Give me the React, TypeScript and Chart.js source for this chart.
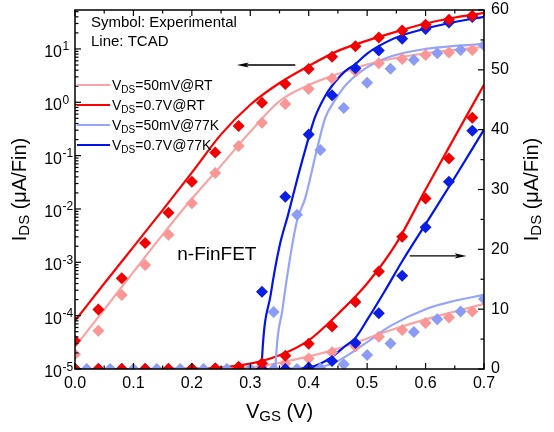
import { useEffect, useRef } from 'react';
import { Chart, registerables } from 'chart.js';

Chart.register(...registerables);

// ---------- Experimental data (symbols), I_DS in uA/Fin ----------
const VGS_EXP = [0.0, 0.04, 0.08, 0.12, 0.16, 0.2, 0.24, 0.28, 0.32, 0.36, 0.4, 0.44, 0.48, 0.52, 0.56, 0.6, 0.64, 0.68];
const VGS_EXP_77K_50MV = [0.02, 0.06, 0.1, 0.14, 0.18, 0.22, 0.26, 0.3, 0.34, 0.38, 0.42, 0.46, 0.5, 0.54, 0.58, 0.62, 0.66, 0.7];
const EXP_50MV_RT = [1.9e-5, 5.2e-5, 2.45e-4, 8.9e-4, 3.3e-3, 1.28e-2, 4.7e-2, 0.152, 0.415, 0.93, 1.77, 2.8, 3.8, 5.4, 6.5, 7.7, 8.6, 9.6];
const EXP_07V_RT = [3.4e-5, 1.3e-4, 5.0e-4, 2.3e-3, 8.5e-3, 3.25e-2, 0.114, 0.36, 0.98, 2.2, 4.2, 7.1, 11.2, 16.3, 22.1, 28.5, 35.2, 42.0];
const EXP_50MV_77K = [0, 0, 0, 0, 0, 0, 0, 0, 1.17e-4, 7.8e-3, 0.128, 0.78, 2.33, 4.25, 6.2, 8.3, 9.6, 11.7];
const EXP_07V_77K = [0, 0, 0, 0, 0, 0, 0, 0, 2.8e-4, 1.7e-2, 0.25, 1.35, 4.35, 9.3, 15.6, 23.7, 31.3, 39.8];

// ---------- TCAD data (lines) ----------
const VGS_TCAD_RT = [0.0, 0.05, 0.1, 0.15, 0.2, 0.25, 0.3, 0.35, 0.4, 0.45, 0.5, 0.55, 0.6, 0.65, 0.7];
const TCAD_50MV_RT = [2.6e-5, 1.3e-4, 6.6e-4, 3.3e-3, 1.55e-2, 6.5e-2, 0.28, 1.05, 2.1, 3.4, 5.1, 6.8, 8.3, 9.6, 10.9];
const TCAD_07V_RT = [8.0e-5, 4.0e-4, 1.95e-3, 9.5e-3, 4.8e-2, 0.25, 0.9, 2.3, 4.8, 9.2, 14.3, 21.0, 30.0, 38.8, 47.5];
const VGS_TCAD_50MV_77K = [0.0, 0.3, 0.335, 0.343, 0.355, 0.368, 0.38, 0.394, 0.414, 0.428, 0.445, 0.465, 0.5, 0.54, 0.6, 0.65, 0.7];
const TCAD_50MV_77K = [1e-9, 1e-9, 1e-8, 1e-5, 1.3e-4, 1.2e-3, 6e-3, 1.6e-2, 0.13, 0.5, 1.1, 2.2, 4.5, 7.2, 10.0, 11.4, 12.4];
const VGS_TCAD_07V_77K = [0.0, 0.3, 0.31, 0.32, 0.335, 0.35, 0.365, 0.38, 0.395, 0.41, 0.428, 0.445, 0.462, 0.48, 0.5, 0.53, 0.56, 0.6, 0.65, 0.7];
const TCAD_07V_77K = [1e-9, 1e-9, 1e-8, 1.5e-5, 2.5e-4, 2e-3, 8e-3, 0.035, 0.14, 0.5, 1.3, 2.4, 3.8, 5.2, 8.2, 13.0, 18.0, 24.2, 32.0, 40.0];

// ---------- Axes ----------
const X_MAJOR = [0.0, 0.1, 0.2, 0.3, 0.4, 0.5, 0.6, 0.7];
const X_LABELS = ['0.0', '0.1', '0.2', '0.3', '0.4', '0.5', '0.6', '0.7'];
const X_MINOR = [0.05, 0.15, 0.25, 0.35, 0.45, 0.55, 0.65];
const LOG_EXPONENTS = [-5, -4, -3, -2, -1, 0, 1];
const LOG_MIN = 1e-5;
const LOG_MAX = 53.7;
const LIN_MAJOR = [0, 10, 20, 30, 40, 50, 60];
const LIN_MINOR = [5, 15, 25, 35, 45, 55];

const LEGEND_LABELS = ['=50mV@RT', '=0.7V@RT', '=50mV@77K', '=0.7V@77K'];

const C_PINK_LINE = 'rgb(248,165,165)';
const C_PINK_PT = 'rgb(250,150,150)';
const C_RED_LINE = 'rgb(255,0,0)';
const C_RED_PT = 'rgb(240,0,0)';
const C_LBLUE_LINE = 'rgb(150,165,250)';
const C_LBLUE_PT = 'rgb(140,155,245)';
const C_BLUE_LINE = 'rgb(0,20,235)';
const C_BLUE_PT = 'rgb(10,30,230)';

const FONT = '"Liberation Sans", Arial, Helvetica, sans-serif';
const f = (px: number) => `${px}px ${FONT}`;

type Part = { t: string; s: number; dy?: number };

function partsWidth(ctx: CanvasRenderingContext2D, parts: Part[]) {
  let w = 0;
  for (const p of parts) {
    ctx.font = f(p.s);
    w += ctx.measureText(p.t).width;
  }
  return w;
}

function drawParts(ctx: CanvasRenderingContext2D, parts: Part[], x: number, y: number, align: 'left' | 'center' | 'right') {
  const w = partsWidth(ctx, parts);
  let cx = align === 'left' ? x : align === 'center' ? x - w / 2 : x - w;
  ctx.textAlign = 'left';
  ctx.textBaseline = 'alphabetic';
  for (const p of parts) {
    ctx.font = f(p.s);
    ctx.fillText(p.t, cx, y + (p.dy || 0));
    cx += ctx.measureText(p.t).width;
  }
}

function arrow(ctx: CanvasRenderingContext2D, x1: number, y1: number, x2: number, y2: number) {
  const dir = Math.sign(x2 - x1);
  const hl = 12;
  const hw = 2.6;
  ctx.beginPath();
  ctx.moveTo(x1, y1);
  ctx.lineTo(x2 - dir * hl * 0.6, y2);
  ctx.lineWidth = 1.3;
  ctx.stroke();
  ctx.beginPath();
  ctx.moveTo(x2, y2);
  ctx.lineTo(x2 - dir * hl, y2 - hw);
  ctx.lineTo(x2 - dir * hl * 0.75, y2);
  ctx.lineTo(x2 - dir * hl, y2 + hw);
  ctx.closePath();
  ctx.fill();
}

const decorPlugin = {
  id: 'decor',
  afterDatasetsDraw(chart: any) {
    const { ctx, chartArea: a, scales } = chart;
    const sx = scales.x;
    const sl = scales.yLog;
    const sr = scales.yLin;
    ctx.save();
    ctx.strokeStyle = '#000';
    ctx.fillStyle = '#000';

    ctx.lineWidth = 1.5;
    ctx.strokeRect(a.left, a.top, a.right - a.left, a.bottom - a.top);

    const MAJ = 6;
    const MIN = 3.5;
    ctx.lineWidth = 1.2;
    const seg = (x1: number, y1: number, x2: number, y2: number) => {
      ctx.beginPath();
      ctx.moveTo(x1, y1);
      ctx.lineTo(x2, y2);
      ctx.stroke();
    };
    X_MAJOR.forEach((v) => {
      const px = sx.getPixelForValue(v);
      seg(px, a.bottom, px, a.bottom - MAJ);
      seg(px, a.top, px, a.top + MAJ);
    });
    X_MINOR.forEach((v) => {
      const px = sx.getPixelForValue(v);
      seg(px, a.bottom, px, a.bottom - MIN);
      seg(px, a.top, px, a.top + MIN);
    });
    LOG_EXPONENTS.forEach((e) => {
      const py = sl.getPixelForValue(Math.pow(10, e));
      seg(a.left, py, a.left + MAJ, py);
      for (let m = 2; m <= 9; m++) {
        const v = m * Math.pow(10, e);
        if (v > LOG_MAX) break;
        const pm = sl.getPixelForValue(v);
        seg(a.left, pm, a.left + MIN, pm);
      }
    });
    LIN_MAJOR.forEach((v) => {
      const py = sr.getPixelForValue(v);
      seg(a.right, py, a.right - MAJ, py);
    });
    LIN_MINOR.forEach((v) => {
      const py = sr.getPixelForValue(v);
      seg(a.right, py, a.right - MIN, py);
    });

    ctx.font = f(16);
    ctx.textAlign = 'center';
    ctx.textBaseline = 'middle';
    X_MAJOR.forEach((v, i) => {
      ctx.fillText(X_LABELS[i], sx.getPixelForValue(v), a.bottom + 15);
    });
    ctx.textAlign = 'left';
    LIN_MAJOR.forEach((v) => {
      ctx.fillText(String(v), a.right + 7, sr.getPixelForValue(v));
    });
    LOG_EXPONENTS.forEach((e) => {
      const py = sl.getPixelForValue(Math.pow(10, e));
      ctx.font = f(16);
      ctx.textAlign = 'right';
      ctx.textBaseline = 'alphabetic';
      ctx.fillText('10', a.left - 13, py + 8);
      ctx.font = f(12);
      ctx.textAlign = 'left';
      ctx.fillText(e < 0 ? '-' + Math.abs(e) : String(e), a.left - 12.5, py + 1.5);
    });

    const cxMid = (a.left + a.right) / 2;
    const cyMid = (a.top + a.bottom) / 2;
    drawParts(ctx, [{ t: 'V', s: 20 }, { t: 'GS', s: 15, dy: 3 }, { t: ' (V)', s: 20 }], cxMid, 418, 'center');
    const yTitle: Part[] = [{ t: 'I', s: 20 }, { t: 'DS', s: 15, dy: 3 }, { t: ' (\u03BCA/Fin)', s: 20 }];
    ctx.save();
    ctx.translate(26, cyMid);
    ctx.rotate(-Math.PI / 2);
    drawParts(ctx, yTitle, 0, 0, 'center');
    ctx.restore();
    ctx.save();
    ctx.translate(538, cyMid);
    ctx.rotate(-Math.PI / 2);
    drawParts(ctx, yTitle, 0, 0, 'center');
    ctx.restore();

    drawParts(ctx, [{ t: 'Symbol: Experimental', s: 15 }], a.left + 16, a.top + 17, 'left');
    drawParts(ctx, [{ t: 'Line: TCAD', s: 15 }], a.left + 16, a.top + 36, 'left');
    drawParts(ctx, [{ t: 'n-FinFET', s: 19 }], sx.getPixelForValue(0.175), sl.getPixelForValue(1.1e-3), 'left');

    const lcolors = [C_PINK_LINE, C_RED_LINE, C_LBLUE_LINE, C_BLUE_LINE];
    LEGEND_LABELS.forEach((lab, i) => {
      const y = a.top + 75 + i * 20;
      ctx.strokeStyle = lcolors[i];
      ctx.lineWidth = 2.2;
      seg(a.left + 2, y, a.left + 35, y);
      ctx.fillStyle = '#000';
      drawParts(ctx, [{ t: 'V', s: 14 }, { t: 'DS', s: 10, dy: 3 }, { t: lab, s: 14 }], a.left + 37, y + 5, 'left');
    });

    ctx.strokeStyle = '#000';
    ctx.fillStyle = '#000';
    const ya = sl.getPixelForValue(5.0);
    arrow(ctx, sx.getPixelForValue(0.377), ya, sx.getPixelForValue(0.277), ya);
    const yb = sr.getPixelForValue(18.9);
    arrow(ctx, sx.getPixelForValue(0.573), yb, sx.getPixelForValue(0.67), yb);

    ctx.restore();
  },
};

function lineDs(xs: number[], ys: number[], color: string, axis: string) {
  return {
    data: xs.map((x, i) => ({ x, y: ys[i] })),
    yAxisID: axis,
    showLine: true,
    borderColor: color,
    backgroundColor: color,
    borderWidth: 2.2,
    pointRadius: 0,
    pointHoverRadius: 0,
    cubicInterpolationMode: 'monotone',
    fill: false,
    clip: 0,
  };
}

function ptDs(xs: number[], ys: number[], color: string, axis: string) {
  return {
    data: xs.map((x, i) => ({ x, y: axis === 'yLog' && ys[i] <= 0 ? null : ys[i] })),
    yAxisID: axis,
    showLine: false,
    pointStyle: 'rectRot',
    pointRadius: 6,
    pointHoverRadius: 6,
    pointBackgroundColor: color,
    pointBorderColor: color,
    pointBorderWidth: 0,
    backgroundColor: color,
    borderColor: color,
    borderWidth: 0,
    clip: 0,
  };
}

export default function App() {
  const ref = useRef<HTMLCanvasElement>(null);
  useEffect(() => {
    document.body.style.margin = '0';
    const drawList: any[] = [];
    for (const axis of ['yLog', 'yLin']) drawList.push(lineDs(VGS_TCAD_RT, TCAD_50MV_RT, C_PINK_LINE, axis));
    for (const axis of ['yLog', 'yLin']) drawList.push(lineDs(VGS_TCAD_RT, TCAD_07V_RT, C_RED_LINE, axis));
    for (const axis of ['yLog', 'yLin']) drawList.push(lineDs(VGS_TCAD_50MV_77K, TCAD_50MV_77K, C_LBLUE_LINE, axis));
    for (const axis of ['yLog', 'yLin']) drawList.push(lineDs(VGS_TCAD_07V_77K, TCAD_07V_77K, C_BLUE_LINE, axis));
    for (const axis of ['yLog', 'yLin']) drawList.push(ptDs(VGS_EXP, EXP_50MV_RT, C_PINK_PT, axis));
    for (const axis of ['yLog', 'yLin']) drawList.push(ptDs(VGS_EXP_77K_50MV, EXP_50MV_77K, C_LBLUE_PT, axis));
    for (const axis of ['yLog', 'yLin']) drawList.push(ptDs(VGS_EXP, EXP_07V_77K, C_BLUE_PT, axis));
    for (const axis of ['yLog', 'yLin']) drawList.push(ptDs(VGS_EXP, EXP_07V_RT, C_RED_PT, axis));
    const n = drawList.length;
    drawList.forEach((d, i) => (d.order = n - i));

    const chart = new Chart(ref.current as HTMLCanvasElement, {
      type: 'scatter',
      data: { datasets: drawList },
      options: {
        responsive: false,
        animation: false,
        devicePixelRatio: 1,
        events: [],
        layout: { padding: { left: 75, right: 70, top: 10, bottom: 63 } },
        plugins: {
          legend: { display: false },
          tooltip: { enabled: false },
          title: { display: false },
        },
        scales: {
          x: { type: 'linear', min: 0, max: 0.7, display: false },
          yLog: { type: 'logarithmic', position: 'left', min: LOG_MIN, max: LOG_MAX, display: false },
          yLin: { type: 'linear', position: 'right', min: 0, max: 60, display: false },
        },
      } as any,
      plugins: [decorPlugin],
    });
    return () => chart.destroy();
  }, []);
  return <canvas ref={ref} width={554} height={432} style={{ display: 'block' }} />;
}
